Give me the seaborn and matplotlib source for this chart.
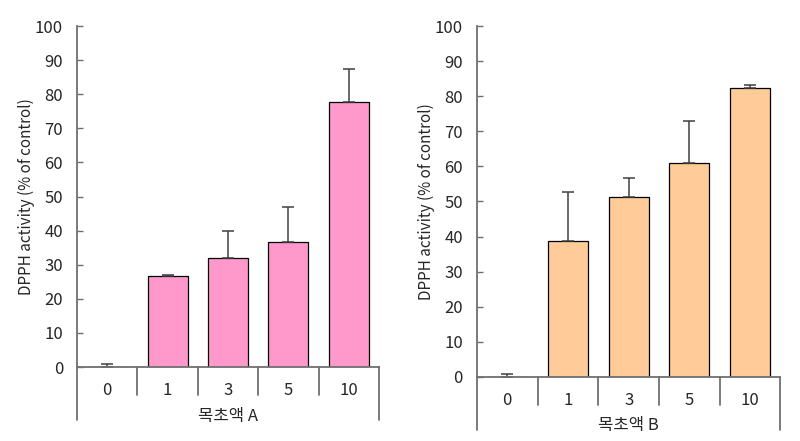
import matplotlib
matplotlib.use("Agg")
import matplotlib.pyplot as plt
import seaborn as sns
import pandas as pd
import numpy as np

sns.set_theme(style="white")
plt.rcParams['font.family'] = ['Noto Sans CJK KR', 'DejaVu Sans']

categories = ["0", "1", "3", "5", "10"]
values_a = [0.0, 26.8, 32.0, 36.7, 77.7]
errors_a = [0.8, 0.2, 8.0, 10.3, 9.6]
values_b = [0.0, 38.8, 51.4, 60.9, 82.3]
errors_b = [0.8, 13.9, 5.4, 12.0, 0.9]
xlabels = ["목초액 A", "목초액 B"]
ylabel = "DPPH activity (% of control)"
yticks = [0, 10, 20, 30, 40, 50, 60, 70, 80, 90, 100]
colors = ["#FF99CC", "#FFCC99"]

fig = plt.figure(figsize=(8, 4.41), dpi=100)
ax1 = fig.add_axes([0.09625, 0.1678, 0.3775, 0.7732])
ax2 = fig.add_axes([0.596, 0.1458, 0.3796, 0.7946])

axis_col = "#707070"
for ax, vals, errs, xl, col in [(ax1, values_a, errors_a, xlabels[0], colors[0]),
                                (ax2, values_b, errors_b, xlabels[1], colors[1])]:
    df = pd.DataFrame({"c": categories, "v": vals})
    sns.barplot(data=df, x="c", y="v", order=categories, color=col, width=0.66,
                edgecolor="black", linewidth=0.9, saturation=1, ax=ax, errorbar=None)
    pos = np.arange(len(categories))
    ax.errorbar(pos, vals, yerr=[np.zeros(len(errs)), errs], fmt="none",
                ecolor="#404040", elinewidth=1.1, capsize=4, capthick=1.1, zorder=1)
    ax.set_xlim(-0.5, len(categories) - 0.5)
    ax.set_ylim(0, 100)
    ax.set_yticks(yticks)
    ax.set_yticklabels([str(t) for t in yticks], fontsize=12)
    ax.tick_params(axis="y", direction="in", length=4, width=1, color=axis_col, pad=10, left=True)
    ax.tick_params(axis="x", length=0, pad=11, labelsize=12)
    ax.set_xlabel("")
    ax.set_ylabel(ylabel, fontsize=11, labelpad=0)
    for s in ["top", "right"]:
        ax.spines[s].set_visible(False)
    for s in ["left", "bottom"]:
        ax.spines[s].set_color(axis_col)
        ax.spines[s].set_linewidth(1.3)
    trans = ax.get_xaxis_transform()
    h_px = ax.get_position().height * 441
    for b in np.arange(0.5, len(categories) - 1, 1.0):
        ax.plot([b, b], [0, -28 / h_px], transform=trans, color=axis_col, lw=1.3, clip_on=False)
    for b in [-0.5, len(categories) - 0.5]:
        ax.plot([b, b], [0, -53 / h_px], transform=trans, color=axis_col, lw=1.3, clip_on=False)
    ax.text(2, -49 / h_px, xl, transform=trans, ha="center", va="center", fontsize=12)
    ax.set_facecolor("white")

fig.savefig("out.png", dpi=100, facecolor="white")
